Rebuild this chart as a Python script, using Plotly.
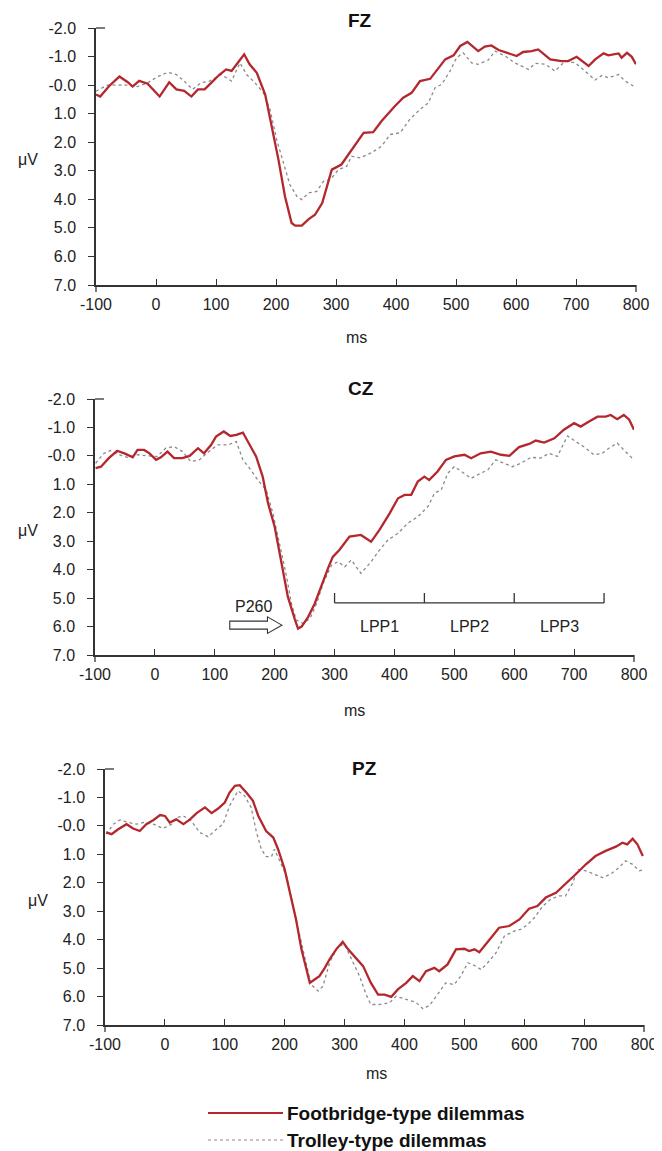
import plotly.graph_objects as go

# ---------------- data ----------------
fz_foot_t = [-100,-93,-78,-61,-47,-39,-28,-14,-3,6,22,34,47,59,70,81,92,106,117,126,
             137,147,156,168,182,193,204,215,226,232,243,254,265,277,285,293,
             309,327,346,362,376,398,412,426,440,457,471,482,496,507,519,537,548,559,571,587,
             601,612,626,637,657,676,687,701,721,732,746,754,771,776,785,793,800]
fz_foot = [0.33,0.4,0.03,-0.3,-0.1,0.05,-0.15,-0.05,0.2,0.4,-0.1,0.15,0.2,0.4,0.15,0.15,-0.08,-0.37,-0.55,-0.5,
           -0.8,-1.08,-0.73,-0.43,0.33,1.44,2.6,3.9,4.83,4.92,4.92,4.7,4.54,4.13,3.55,2.96,
           2.78,2.26,1.67,1.65,1.26,0.74,0.44,0.27,-0.14,-0.22,-0.61,-0.9,-1.04,-1.37,-1.51,-1.19,-1.35,-1.39,-1.23,-1.13,
           -1.02,-1.16,-1.19,-1.25,-0.9,-0.84,-0.84,-0.99,-0.67,-0.9,-1.11,-1.04,-1.11,-0.96,-1.13,-0.99,-0.73]

fz_trol_t = [-100,-81,-61,-47,-31,-14,3,20,34,47,61,75,89,109,126,140,151,165,179,190,
             201,212,223,235,243,254,268,279,291,304,318,326,340,359,376,390,407,423,440,
             454,465,476,490,501,512,526,537,554,565,582,598,621,632,649,665,682,699,715,732,
             743,754,771,782,798]
fz_trol = [0.21,0,0,0,0.05,-0.08,-0.3,-0.45,-0.37,-0.14,0.15,-0.08,-0.14,-0.37,-0.14,-0.78,-0.37,-0.08,0.27,0.85,
           1.9,2.72,3.48,3.9,4.01,3.78,3.72,3.37,3.3,2.96,2.84,2.49,2.55,2.37,2.14,1.73,1.67,1.2,0.85,
           0.62,0.09,-0.02,-0.49,-0.96,-1.13,-0.78,-0.73,-0.88,-1.19,-1.02,-0.78,-0.55,-0.76,-0.73,-0.49,-0.84,-0.78,-0.49,-0.18,
           -0.34,-0.26,-0.37,-0.14,0.06]

cz_foot_t = [-99,-90,-77,-63,-49,-37,-29,-18,-9,2,10,21,32,46,58,72,82,94,102,115,
             126,136,147,158,169,180,189,200,211,222,234,239,245,256,267,278,290,297,
             308,325,344,361,375,392,406,417,428,439,450,458,472,486,500,517,528,544,561,578,
             592,608,625,636,650,667,683,700,711,725,739,753,761,772,783,792,800]
cz_foot = [0.43,0.38,0.08,-0.18,-0.07,0.05,-0.21,-0.21,-0.09,0.14,0.05,-0.15,0.08,0.08,0,-0.27,-0.09,-0.39,-0.68,-0.86,
           -0.7,-0.74,-0.82,-0.39,0.02,0.73,1.67,2.49,3.66,4.95,5.77,6.07,6.0,5.66,5.19,4.54,3.9,3.55,
           3.31,2.84,2.78,3.02,2.6,2.02,1.49,1.37,1.37,0.9,0.73,0.85,0.55,0.14,0.02,-0.04,0.08,-0.09,-0.15,-0.04,
           0,-0.31,-0.42,-0.54,-0.47,-0.62,-0.92,-1.15,-1.03,-1.21,-1.38,-1.38,-1.44,-1.29,-1.44,-1.27,-0.92]

cz_trol_t = [-99,-85,-74,-60,-46,-29,-12,4,18,32,46,60,74,88,105,122,136,147,158,172,
             186,197,208,220,228,236,247,259,270,281,295,306,317,328,344,361,375,389,406,422,
             439,456,467,478,489,500,508,528,544,556,569,583,597,611,628,644,658,672,681,689,
             703,717,733,747,758,772,783,797]
cz_trol = [0.26,-0.09,-0.19,-0.04,0.05,-0.04,0,0.02,-0.27,-0.33,-0.15,0.2,0.14,-0.12,-0.39,-0.39,-0.5,0.14,0.43,0.85,
           1.2,2.02,3.08,4.25,5.19,5.77,5.89,5.72,5.19,4.48,3.84,3.72,3.9,3.66,4.13,3.72,3.31,2.96,2.72,2.37,
           2.14,1.78,1.31,1.2,0.61,0.38,0.49,0.79,0.61,0.49,0.14,0.26,0.38,0.26,0.05,0.08,-0.09,0.02,-0.39,-0.7,
           -0.5,-0.31,-0.04,-0.09,-0.27,-0.45,-0.21,0.08]

pz_foot_t = [-98,-89,-78,-64,-53,-42,-31,-19,-8,0,8,19,31,42,53,67,78,89,100,108,
             117,125,136,147,156,169,181,189,200,208,219,228,236,242,250,258,267,275,
             286,297,306,319,331,344,356,367,378,389,403,414,425,436,450,458,472,486,500,508,
             517,525,536,547,558,575,592,608,622,636,653,669,686,703,719,736,753,764,772,781,789,798]
pz_foot = [0.23,0.29,0.12,-0.06,0.09,0.18,-0.06,-0.21,-0.38,-0.35,-0.12,-0.23,-0.06,-0.23,-0.45,-0.65,-0.45,-0.61,-0.82,-1.17,
           -1.41,-1.43,-1.17,-0.88,-0.35,0.18,0.41,0.82,1.53,2.23,3.29,4.34,5.05,5.52,5.4,5.28,4.99,4.69,
           4.34,4.08,4.34,4.64,4.93,5.52,5.93,5.93,6.01,5.75,5.52,5.28,5.46,5.11,4.99,5.11,4.87,4.34,4.32,4.4,
           4.34,4.44,4.17,3.87,3.58,3.52,3.29,2.91,2.82,2.52,2.35,2.05,1.7,1.35,1.06,0.88,0.73,0.59,0.65,0.45,0.65,1.06]

pz_trol_t = [-98,-86,-75,-61,-47,-36,-19,-3,11,19,31,44,58,72,86,97,108,122,133,144,
             153,161,169,178,183,192,203,214,225,236,244,256,264,275,
             289,300,311,325,336,344,358,375,386,403,419,431,442,453,469,483,494,506,517,528,
             539,553,567,583,594,606,617,631,644,658,669,681,689,703,717,731,744,758,769,781,792,797]
pz_trol = [0.29,-0.06,-0.21,-0.12,-0.06,-0.12,-0.06,0.09,-0.06,-0.29,-0.35,-0.18,0.23,0.38,0.12,-0.06,-0.7,-1.23,-1.06,-0.65,
           0.23,0.82,1.08,1.08,0.82,1.23,1.76,2.82,3.87,4.93,5.58,5.81,5.63,4.81,
           4.23,4.17,4.64,5.28,5.93,6.28,6.28,6.22,5.99,6.1,6.2,6.43,6.31,5.99,5.52,5.58,5.28,4.81,4.91,5.05,
           4.81,4.46,3.87,3.7,3.64,3.46,3.23,2.82,2.58,2.46,2.46,2.0,1.53,1.58,1.7,1.82,1.7,1.47,1.23,1.35,1.58,1.55]

y_ticks = [-2, -1, 0, 1, 2, 3, 4, 5, 6, 7]
y_tick_labels = ["-2.0", "-1.0", "-0.0", "1.0", "2.0", "3.0", "4.0", "5.0", "6.0", "7.0"]
x_ticks = [-100, 0, 100, 200, 300, 400, 500, 600, 700, 800]
x_tick_labels = ["-100", "0", "100", "200", "300", "400", "500", "600", "700", "800"]
panel_names = ["FZ", "CZ", "PZ"]
series_names = ["Footbridge-type dilemmas", "Trolley-type dilemmas"]
lpp_bounds = [300, 450, 600, 750]
lpp_labels = ["LPP1", "LPP2", "LPP3"]

# ---------------- styling / layout ----------------
VW, VH = 662, 1151          # browser window
OX, OY = 8, 8               # default page margin around the plot div
W, H = VW - OX, VH - OY     # figure size so that it ends at the window edge
RED = "#B3272D"
GREY = "#8a8a8a"
FONT = "Liberation Sans, Arial, sans-serif"
AX = "#333333"
TXT = "#222222"

def px(x):
    return (x - OX) / W

def py(y):
    return 1 - (y - OY) / H

# plot boxes in window pixels: (left, right, top, bottom)
boxes = [(96, 636, 28, 285), (95, 634, 399, 655), (105, 644, 769, 1025)]

fig = go.Figure()
panels = [(fz_foot_t, fz_foot, fz_trol_t, fz_trol),
          (cz_foot_t, cz_foot, cz_trol_t, cz_trol),
          (pz_foot_t, pz_foot, pz_trol_t, pz_trol)]

layout = dict(width=W, height=H, margin=dict(l=0, r=0, t=0, b=0, pad=0),
              paper_bgcolor="white", plot_bgcolor="white", showlegend=False,
              template="none",
              font=dict(family=FONT, size=16, color=TXT))
annotations = []
shapes = []

for i, (ft, fv, tt, tv) in enumerate(panels):
    n = "" if i == 0 else str(i + 1)
    xa, ya = "x" + n, "y" + n
    fig.add_trace(go.Scatter(x=tt, y=tv, mode="lines", name=series_names[1],
                             line=dict(color=GREY, width=1.3, dash="dot"),
                             xaxis=xa, yaxis=ya))
    fig.add_trace(go.Scatter(x=ft, y=fv, mode="lines", name=series_names[0],
                             line=dict(color=RED, width=2.3),
                             xaxis=xa, yaxis=ya))
    l, r, t, b = boxes[i]
    layout["xaxis" + n] = dict(domain=[px(l), px(r)], anchor=ya, range=[-100, 800],
                               tickvals=x_ticks, ticktext=x_tick_labels,
                               ticks="inside", ticklen=6, tickwidth=1.3,
                               tickcolor=AX, showline=True, linecolor=AX, linewidth=1.5,
                               showgrid=False, zeroline=False, automargin=False,
                               ticklabelstandoff=4,
                               tickfont=dict(family=FONT, size=16, color=TXT))
    layout["yaxis" + n] = dict(domain=[py(b), py(t)], anchor=xa, range=[7, -2],
                               tickvals=y_ticks, ticktext=y_tick_labels, ticks="outside",
                               ticklen=6, tickwidth=1.3, tickcolor=AX, showline=True,
                               linecolor=AX, linewidth=1.5, showgrid=False, zeroline=False,
                               automargin=False, ticklabelstandoff=9,
                               tickfont=dict(family=FONT, size=16, color=TXT))
    # axis-end decorations: top tick crossing the y axis, end ticks crossing the x axis
    shapes.append(dict(type="line", xref="paper", yref="paper", x0=px(l), x1=px(l + 9),
                       y0=py(t), y1=py(t), line=dict(color=AX, width=1.3)))
    for xe in (l, r):
        shapes.append(dict(type="line", xref="paper", yref="paper", x0=px(xe), x1=px(xe),
                           y0=py(b), y1=py(b + 7), line=dict(color=AX, width=1.3)))

def note(text, x, y, size=16, color=TXT, xref="paper", yref="paper", xanchor="center"):
    return dict(text=text, x=x, y=y, xref=xref, yref=yref, showarrow=False,
                xanchor=xanchor, yanchor="middle",
                font=dict(family=FONT, size=size, color=color))

# panel titles, axis labels
title_pos = [(360, 20), (361, 388), (364, 768)]
uv_pos = [(28, 160), (28, 530), (38, 900)]
ms_pos = [(356, 337), (354, 710), (376, 1073)]
for i in range(3):
    annotations.append(note("<b>%s</b>" % panel_names[i], px(title_pos[i][0]), py(title_pos[i][1]),
                            size=19, color="#111"))
    annotations.append(note("μV", px(uv_pos[i][0]), py(uv_pos[i][1])))
    annotations.append(note("ms", px(ms_pos[i][0]), py(ms_pos[i][1])))

# LPP bracket in CZ
shapes.append(dict(type="line", xref="x2", yref="y2", x0=lpp_bounds[0], x1=lpp_bounds[-1],
                   y0=5.17, y1=5.17, line=dict(color=AX, width=1.3)))
for b_ in lpp_bounds:
    shapes.append(dict(type="line", xref="x2", yref="y2", x0=b_, x1=b_, y0=5.17, y1=4.82,
                       line=dict(color=AX, width=1.3)))
for k, lab in enumerate(lpp_labels):
    annotations.append(note(lab, (lpp_bounds[k] + lpp_bounds[k + 1]) / 2, 6.0,
                            xref="x2", yref="y2"))

# P260 hollow arrow
annotations.append(note("P260", 164, 5.3, xref="x2", yref="y2"))
shapes.append(dict(type="path", xref="x2", yref="y2",
                   path="M125,5.81 L188,5.81 L188,5.66 L212,5.95 L188,6.24 L188,6.09 L125,6.09 Z",
                   line=dict(color="#333", width=1.1), fillcolor="white"))

# manual legend
leg = [(1113, RED, "solid", 2.0, series_names[0]), (1140, GREY, "dot", 1.2, series_names[1])]
for yy, col, dash, wdt, name in leg:
    shapes.append(dict(type="line", xref="paper", yref="paper", x0=px(208), x1=px(283),
                       y0=py(yy), y1=py(yy), line=dict(color=col, width=wdt, dash=dash)))
    annotations.append(note("<b>%s</b>" % name, px(285), py(yy), size=19, color="#111",
                            xanchor="left"))

layout["annotations"] = annotations
layout["shapes"] = shapes
fig.update_layout(**layout)
fig.write_html("out.html")
